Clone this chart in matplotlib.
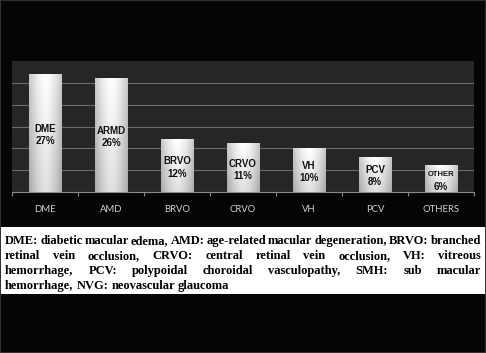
import matplotlib
matplotlib.use("Agg")
import matplotlib.pyplot as plt
import numpy as np
from matplotlib.colors import LinearSegmentedColormap
from matplotlib.patches import Rectangle

categories = ["DME", "AMD", "BRVO", "CRVO", "VH", "PCV", "OTHERS"]
bar_names = ["DME", "ARMD", "BRVO", "CRVO", "VH", "PCV", "OTHER"]
values = [27, 26, 12, 11, 10, 8, 6]
caption_lines = [
    "DME: diabetic macular edema, AMD: age-related macular degeneration, BRVO: branched",
    "retinal vein occlusion, CRVO: central retinal vein occlusion, VH: vitreous",
    "hemorrhage, PCV: polypoidal choroidal vasculopathy, SMH: sub macular",
    "hemorrhage, NVG: neovascular glaucoma",
]

W, H = 486, 353
fig = plt.figure(figsize=(W / 100, H / 100), dpi=100, facecolor="#050505")

# thin grey frame round the picture
fig.patches.append(Rectangle((0, 0), 1, 1, transform=fig.transFigure, fill=False,
                             edgecolor="#3a3a3a", lw=1.2))

ax = fig.add_axes([12 / W, (H - 192) / H, 462 / W, 131 / H])
ax.set_facecolor("#262626")
x = np.arange(len(categories))
bars = ax.bar(x, values, width=0.5, color="none", edgecolor="none", zorder=3)

# white-to-grey shading on each bar
gx = np.linspace(-1, 1, 64)
gy = np.linspace(0, 1, 64)
shade = 1 - 0.22 * np.abs(gx)[None, :] ** 1.6 - 0.12 * (1 - gy)[:, None]
cmap = LinearSegmentedColormap.from_list("g", ["#000000", "#ffffff"])
for b in bars:
    ax.imshow(shade, extent=[b.get_x(), b.get_x() + b.get_width(), 0, b.get_height()],
              origin="lower", cmap=cmap, vmin=0, vmax=1, aspect="auto", zorder=3)

lab_kw = dict(ha="center", va="center", fontweight="bold", family="Liberation Sans",
              color="#111111", zorder=4)
for xi, v, name in zip(x, values, bar_names):
    yc = v / 2 - 0.4
    ax.text(xi, yc + 1.4, name, fontsize=5.5 if name == "OTHER" else 7, **lab_kw)
    ax.text(xi, yc - 1.4, f"{v}%", fontsize=7, **lab_kw)

ax.set_xlim(-0.5, len(categories) - 0.5)
ax.set_ylim(0, 30)
ax.set_yticks([5, 10, 15, 20, 25])
ax.yaxis.grid(True, color="#6a6a6a", lw=0.8)
ax.set_axisbelow(True)
ax.tick_params(axis="y", left=False, labelleft=False)
ax.set_xticks(x)
ax.set_xticklabels(categories, family="Lato", fontsize=6.8, color="#d0d0d0")
ax.tick_params(axis="x", which="major", length=0, pad=9)
ax.set_xticks(np.arange(len(categories) + 1) - 0.5, minor=True)
ax.tick_params(axis="x", which="minor", length=3, color="#8a8a8a", width=0.8)
for side in ["top", "right", "left"]:
    ax.spines[side].set_visible(False)
ax.spines["bottom"].set_color("#8a8a8a")
ax.spines["bottom"].set_linewidth(0.8)

# caption panel
fig.patches.append(Rectangle((1 / W, 1 - 294 / H), 484 / W, 67 / H,
                             transform=fig.transFigure, facecolor="white",
                             edgecolor="none"))

renderer = fig.canvas.get_renderer()
left_px, right_px = 5, 481
line_y = [241, 256, 271, 286]
cap_kw = dict(family="Liberation Serif", fontweight="bold", fontsize=9.0,
              color="black", va="center", ha="left")
for i, (line, yc) in enumerate(zip(caption_lines, line_y)):
    words = line.split(" ")
    texts = [fig.text(0, 1 - yc / H, w, **cap_kw) for w in words]
    widths = [t.get_window_extent(renderer).width for t in texts]
    if i < len(caption_lines) - 1:
        gap = (right_px - left_px - sum(widths)) / (len(words) - 1)
    else:
        gap = 3.0
    pos = left_px
    for t, w in zip(texts, widths):
        t.set_x(pos / W)
        pos += w + gap

fig.savefig("out.png", dpi=100, facecolor=fig.get_facecolor())
